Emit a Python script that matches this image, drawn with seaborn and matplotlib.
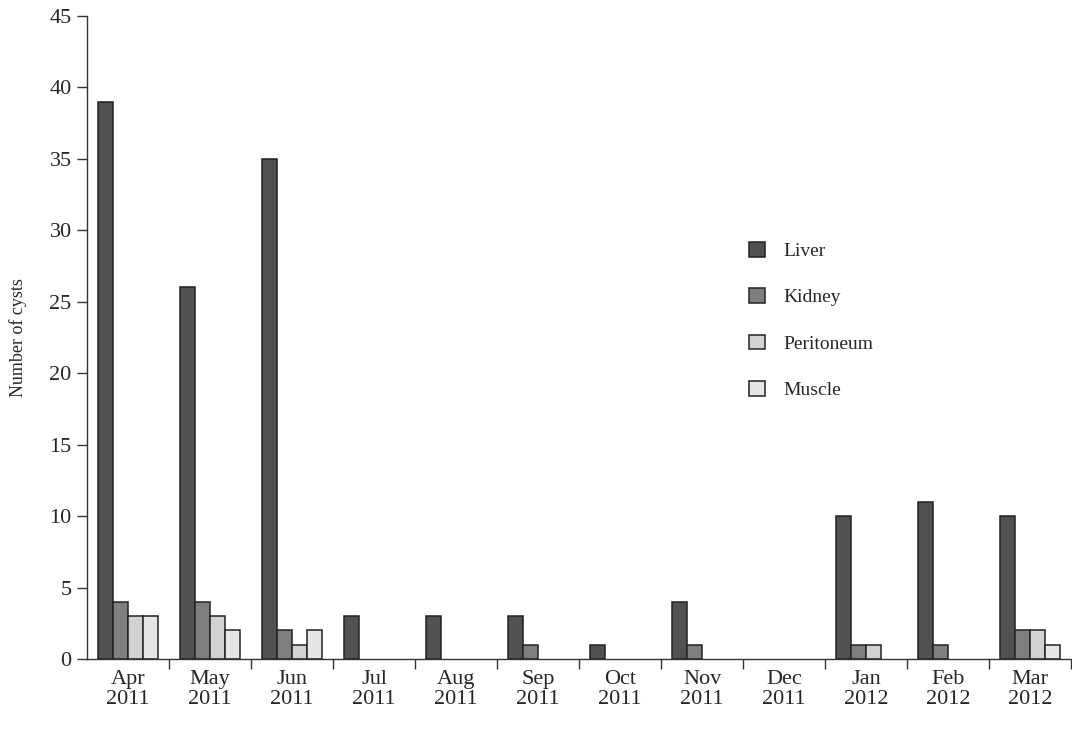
import matplotlib
matplotlib.use("Agg")
import matplotlib.pyplot as plt
from matplotlib.patches import Patch
import seaborn as sns
import pandas as pd
import numpy as np

months = ["Apr\n2011", "May\n2011", "Jun\n2011", "Jul\n2011", "Aug\n2011", "Sep\n2011",
          "Oct\n2011", "Nov\n2011", "Dec\n2011", "Jan\n2012", "Feb\n2012", "Mar\n2012"]
organs = ["Liver", "Kidney", "Peritoneum", "Muscle"]
liver = [39, 26, 35, 3, 3, 3, 1, 4, 0, 10, 11, 10]
kidney = [4, 4, 2, 0, 0, 1, 0, 1, 0, 1, 1, 2]
peritoneum = [3, 3, 1, 0, 0, 0, 0, 0, 0, 1, 0, 2]
muscle = [3, 2, 2, 0, 0, 0, 0, 0, 0, 0, 0, 1]
colors = ["#515151", "#7f7f7f", "#d2d2d2", "#e6e6e6"]

rows = []
for organ, vals in zip(organs, [liver, kidney, peritoneum, muscle]):
    for m, v in zip(months, vals):
        rows.append({"month": m, "organ": organ, "count": v})
df = pd.DataFrame(rows)

sns.set_style("ticks")
plt.rcParams["font.family"] = ["Liberation Serif", "DejaVu Serif"]

fig = plt.figure(figsize=(10.72, 7.38), dpi=100)
ax = fig.add_axes([87/1072, 1 - 659/738, (1071 - 87)/1072, (659 - 16)/738])

sns.barplot(data=df, x="month", y="count", hue="organ", order=months, hue_order=organs,
            palette=colors, width=0.73, edgecolor="#222222", linewidth=1.1,
            saturation=1, ax=ax, legend=False)

# hide zero-height bars (not drawn in the reference)
for p in ax.patches:
    if p.get_height() == 0:
        p.set_visible(False)

ax.set_xlim(-0.5, 11.5)
ax.set_ylim(0, 45)
ax.set_yticks(np.arange(0, 46, 5))
ax.tick_params(axis="y", labelsize=16, length=7, width=1, color="#333333", pad=4)
ax.set_xticks(np.arange(len(months)))
ax.set_xticklabels(months, fontsize=16, linespacing=1.05)
ax.tick_params(axis="x", which="major", length=0, pad=8)
ax.set_xticks(np.arange(len(months)) + 0.5, minor=True)
ax.tick_params(axis="x", which="minor", length=7, width=1, color="#333333")
ax.set_xlabel("")
ax.set_ylabel("Number of cysts", fontsize=13, labelpad=16)
for s in ["top", "right"]:
    ax.spines[s].set_visible(False)
for s in ["left", "bottom"]:
    ax.spines[s].set_color("#333333")
    ax.spines[s].set_linewidth(1)

handles = [Patch(facecolor=c, edgecolor="#222222", linewidth=1.1, label=o)
           for o, c in zip(organs, colors)]
leg = ax.legend(handles=handles, loc="upper left", bbox_to_anchor=(0.655, 0.676),
                frameon=False, fontsize=14, labelspacing=1.45, handlelength=0.8,
                handleheight=0.8, handletextpad=0.95)

fig.savefig("out.png", dpi=100)
